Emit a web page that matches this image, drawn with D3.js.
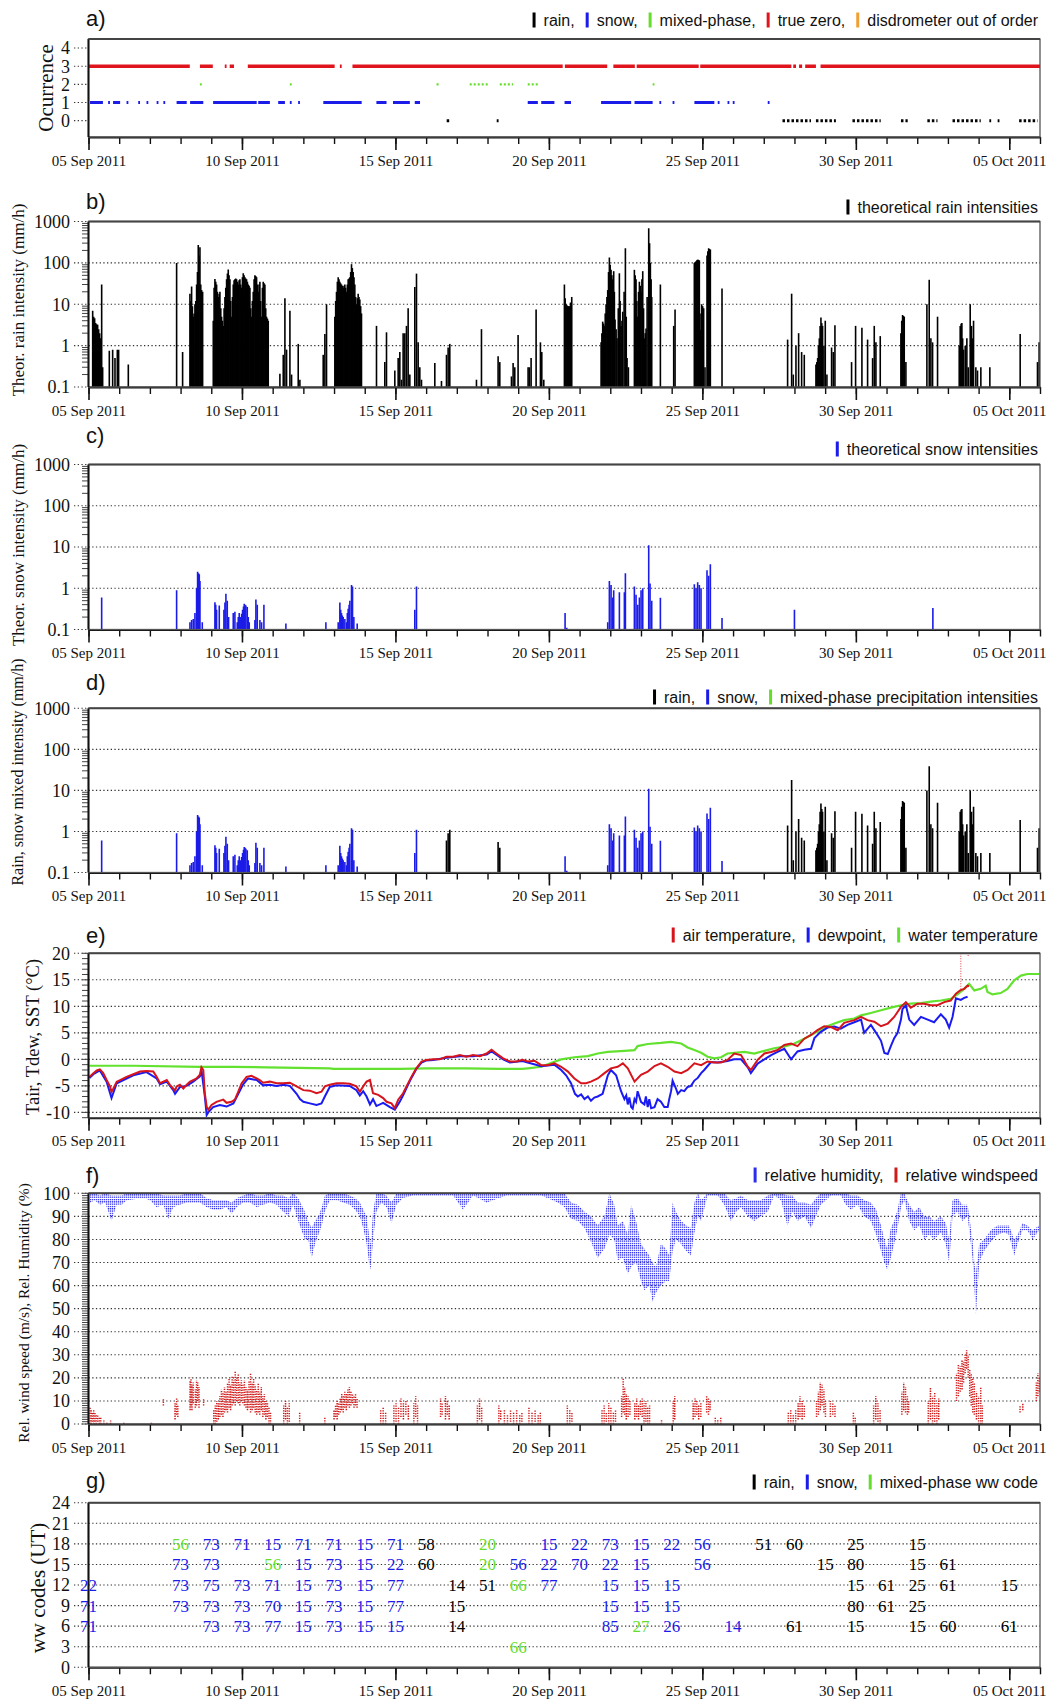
<!DOCTYPE html>
<html><head><meta charset="utf-8">
<script src="https://cdn.jsdelivr.net/npm/d3@7"></script>
<style>
body{margin:0;background:#fff;}
svg{display:block;}
.serif{font-family:"Liberation Serif","Times New Roman",serif;}
.sans{font-family:"Liberation Sans",Arial,sans-serif;}
</style></head><body>
<svg id="chart" width="1056" height="1701"></svg>
<script>
// ---------- data (time in days since 05 Sep 2011 00 UT) ----------

// a) occurrence intervals [start, end]
const occZero = [[0.02,3.3],[3.63,4.05],[4.44,4.46],[4.6,4.74],[5.19,8.02],[8.19,8.21],[8.6,15.45],[15.52,16.9],[17.1,17.8],[17.86,19.88],[19.93,22.9],[22.96,23.05],[23.15,23.25],[23.35,23.7],[23.85,31]];
const occSnow = [[0.05,0.47],[0.64,0.66],[0.8,1.03],[1.24,1.26],[1.62,1.64],[1.89,1.91],[2.22,2.24],[2.44,2.46],[2.87,3.2],[3.31,3.74],[4.06,5.48],[5.53,5.91],[6.18,6.4],[6.56,6.58],[6.83,6.85],[7.65,8.9],[9.38,9.71],[9.92,10.47],[10.63,10.8],[14.31,14.64],[14.75,15.18],[15.51,15.72],[16.7,17.68],[17.79,18.38],[18.6,18.62],[19.03,19.05],[19.74,20.39],[20.5,20.52],[20.82,20.84],[20.99,21.01],[22.13,22.15]];
const occMixed = [[3.63,3.66],[6.56,6.59],[11.34,11.44],[12.42,13.07],[13.4,13.83],[14.31,14.64],[18.38,18.41]];
const occRain = [[11.67,11.77],[13.3,13.36],[22.61,23.54],[23.7,24.35],[24.89,25.81],[26.47,26.69],[27.33,27.66],[28.15,29.07],[29.35,29.37],[29.62,29.64],[30.32,30.92]];

// b) theoretical rain intensities [day, mm/h]
const rainTheo = [
 [0.136,7],[0.168,5],[0.2,4.6],[0.233,3.5],[0.266,3.3],[0.298,3.2],[0.331,2.5],[0.364,2],[0.396,1.5],[0.429,30],[0.461,0.3],
 [0.678,0.75],[0.787,0.8],[0.863,0.5],[0.939,0.8],[0.982,0.8],[1.297,0.35],
 [2.871,100],[3.066,0.7],
 [3.305,18],[3.33,12],[3.359,27],[3.386,9],[3.413,5],[3.44,6],[3.468,10],[3.495,12],[3.522,30],[3.55,60],[3.576,270],[3.603,150],[3.631,240],[3.658,30],[3.685,22],[3.718,20],
 [4.065,4],[4.092,25],[4.119,41],[4.146,35],[4.173,30],[4.2,20],[4.228,15],[4.255,18],[4.282,20],[4.31,8],[4.336,5],[4.363,4],[4.39,3],[4.418,8],[4.445,15],[4.472,25],[4.499,40],[4.526,55],[4.553,69],[4.58,50],[4.608,40],[4.635,12],[4.662,5],[4.69,15],[4.716,30],[4.743,38],[4.77,40],[4.797,42],[4.825,40],[4.852,35],[4.879,30],[4.906,38],[4.933,40],[4.96,30],[4.987,25],[5.015,45],[5.042,56],[5.069,50],[5.096,45],[5.123,42],[5.15,40],[5.178,35],[5.205,30],[5.232,28],[5.259,25],[5.286,8],[5.313,5],[5.34,12],[5.367,20],[5.395,40],[5.422,50],[5.449,48],[5.476,45],[5.503,30],[5.53,20],[5.557,30],[5.584,35],[5.611,12],[5.639,5],[5.666,25],[5.693,35],[5.72,32],[5.747,30],[5.774,8],[5.801,5],[5.83,4.5],[5.856,4],
 [6.236,0.21],[6.345,0.6],[6.399,14],[6.453,0.8],[6.562,7],[6.616,0.2],[6.833,1.1],[6.887,0.15],
 [7.647,0.6],[7.701,1.9],[7.755,10],
 [8.026,5],[8.053,12],[8.08,20],[8.108,35],[8.135,45],[8.162,40],[8.189,35],[8.216,32],[8.243,30],[8.27,28],[8.297,25],[8.325,28],[8.352,30],[8.379,25],[8.406,20],[8.433,30],[8.46,40],[8.488,42],[8.515,45],[8.542,60],[8.569,93],[8.596,75],[8.623,60],[8.65,45],[8.677,30],[8.705,15],[8.732,10],[8.759,14],[8.786,18],[8.813,15],[8.84,13],[8.867,9],[8.894,6],
 [9.383,3],[9.654,0.4],[9.709,2.1],[9.98,0.25],[10.089,0.5],[10.143,0.7],[10.197,0.15],[10.251,2],[10.306,2],[10.36,3],[10.414,8],[10.469,0.2],[10.631,26],[10.686,55],[10.74,1.2],[10.794,0.3],[10.849,0.15],
 [11.283,0.38],[11.5,0.14],[11.663,0.6],[11.717,0.9],[11.771,1.1],[12.64,0.15],[12.803,2.5],[13.345,0.55],[13.4,0.4],[13.78,0.18],[13.834,0.38],[13.888,0.3],[13.996,1.8],
 [14.322,0.3],[14.365,0.3],[14.42,0.5],[14.583,7.5],[14.724,1.2],[14.768,0.7],[14.833,0.15],
 [15.505,30],[15.53,14],[15.56,10],[15.587,9.5],[15.614,9],[15.64,9],[15.668,9],[15.705,11],[15.744,15],
 [16.7,1.2],[16.726,2],[16.753,3.8],[16.78,3.4],[16.808,3],[16.835,6],[16.862,10],[16.89,15],[16.916,22],[16.943,60],[16.97,135],[16.997,90],[17.025,68],[17.052,50],[17.079,40],[17.111,63],[17.133,20],[17.155,4.3],[17.19,2.5],[17.22,1.5],[17.26,8],[17.296,56],[17.32,12],[17.35,3],[17.38,4],[17.405,6.6],[17.45,20],[17.492,225],[17.52,5],[17.546,0.5],[17.59,0.3],
 [17.785,68],[17.812,50],[17.839,40],[17.866,12],[17.894,5],[17.92,20],[17.948,35],[17.975,28],[18.002,20],[18.03,40],[18.057,63],[18.084,8],[18.111,1.5],[18.138,2],[18.165,2.6],[18.2,15],[18.252,690],[18.28,300],[18.306,100],[18.33,40],[18.35,15],[18.632,30],[19.066,3],[19.11,7.5],
 [19.738,100],[19.765,105],[19.793,110],[19.82,115],[19.847,120],[19.874,118],[19.901,115],[19.934,2.4],[19.955,6],[19.977,10],[20.01,9],[20.042,8],[20.086,0.3],[20.151,150],[20.178,190],[20.205,225],[20.232,215],[20.26,210],
 [20.64,24],
 [22.777,1.4],[22.908,18],[22.962,0.2],[23.049,1],[23.136,2],[23.234,0.7],[23.32,0.6],
 [23.7,0.35],[23.728,0.4],[23.755,0.5],[23.782,1],[23.809,1.5],[23.836,3],[23.863,4.8],[23.89,3.5],[23.917,3],[23.96,1],[24.004,4],[24.058,0.2],[24.21,0.9],[24.264,0.7],[24.319,3.1],
 [24.861,0.4],[24.992,3],[25.198,2.7],[25.383,1.4],[25.546,0.5],[25.6,3],[25.654,1.2],[25.795,1.7],
 [26.468,2],[26.495,4],[26.523,5.5],[26.55,5.2],[26.577,5],[26.631,0.4],
 [27.315,10],[27.391,39],[27.445,1.5],[27.5,1.2],[27.662,5],
 [28.368,1],[28.4,3],[28.43,3.4],[28.455,3.5],[28.48,1.5],[28.509,0.8],[28.563,1.0],[28.617,1.5],[28.661,0.3],[28.726,10],[28.769,3],[28.8,1.5],[28.835,4],[28.91,0.3],[28.964,0.25],[29.073,0.3],[29.366,0.3],
 [30.354,1.9],[30.918,0.4],[30.972,1.2]
];

// c) theoretical snow intensities [day, mm/h]
const snowTheo = [
 [0.429,0.6],[2.871,0.9],[3.305,0.15],[3.359,0.17],[3.413,0.18],[3.468,0.25],[3.522,1.0],[3.555,2.5],[3.582,2.3],[3.609,2.2],[3.631,1.5],[3.707,0.15],
 [4.119,0.46],[4.146,0.4],[4.173,0.3],[4.26,0.38],[4.412,0.3],[4.445,0.45],[4.477,0.74],[4.521,0.5],[4.564,0.2],[4.716,0.25],[4.77,0.27],[4.846,0.15],[4.88,0.2],[4.911,0.25],[4.955,0.2],[4.99,0.24],[5.02,0.3],[5.05,0.36],[5.074,0.42],[5.1,0.4],[5.128,0.38],[5.172,0.35],[5.205,0.2],[5.237,0.15],[5.422,0.17],[5.454,0.53],[5.498,0.4],[5.584,0.17],[5.639,0.15],[5.715,0.4],
 [6.431,0.14],[7.734,0.15],
 [8.135,0.15],[8.189,0.45],[8.216,0.3],[8.243,0.25],[8.27,0.22],[8.297,0.2],[8.352,0.18],[8.406,0.15],[8.433,0.25],[8.46,0.32],[8.49,0.4],[8.515,0.5],[8.569,1.2],[8.602,1.1],[8.645,0.2],[8.754,0.14],
 [10.631,0.3],[10.686,1.1],
 [15.527,0.25],[15.582,0.11],
 [16.916,0.15],[16.97,1.5],[17.025,1.2],[17.079,0.6],[17.111,0.9],[17.296,0.8],[17.459,0.8],[17.492,2.3],[17.785,1.1],[17.839,0.7],[17.894,0.4],[17.948,0.6],[18.002,0.9],[18.057,1.0],[18.252,11],[18.295,1.3],[18.35,0.5],[18.632,0.59],
 [19.738,1.25],[19.793,1.0],[19.847,1.4],[19.901,1.2],[19.956,1.0],[20.151,2.75],[20.205,2.0],[20.26,3.8],[20.64,0.19],
 [23.0,0.3],[27.51,0.33]
];

// d) phase-resolved intensities: periods classified as rain / snow
const rainPeriods = [[11.6,11.8],[13.3,13.45],[22.7,31.1]];
const snowPeriods = [[0,21]];

// e) temperatures [day, °C]
const airTemp = [
 [0.03,-3.3],[0.16,-2.6],[0.27,-2.1],[0.37,-1.9],[0.48,-2.6],[0.59,-3.9],[0.70,-5.1],[0.75,-6.1],[0.81,-5.5],[0.92,-4.2],[1.03,-3.9],[1.24,-3.3],[1.46,-2.8],[1.68,-2.3],[1.89,-2.2],[2.11,-2.3],[2.22,-3.3],[2.33,-4.5],[2.44,-4.2],[2.55,-3.9],[2.65,-4.8],[2.76,-5.5],[2.82,-5.9],[2.87,-5.1],[2.98,-4.8],[3.09,-5.5],[3.20,-4.8],[3.31,-4.2],[3.41,-3.9],[3.52,-3.6],[3.63,-2.9],[3.68,-1.5],[3.74,-2.0],[3.79,-6.4],[3.85,-8.9],[3.90,-9.5],[4.01,-8.6],[4.17,-8.0],[4.39,-7.6],[4.50,-8.2],[4.66,-8.0],[4.77,-7.6],[4.88,-6.1],[4.99,-4.5],[5.15,-3.3],[5.31,-3.1],[5.48,-3.6],[5.58,-3.9],[5.69,-4.4],[5.91,-4.2],[6.13,-4.5],[6.34,-4.5],[6.56,-4.4],[6.78,-5.1],[7.00,-5.8],[7.21,-5.9],[7.43,-6.4],[7.59,-6.1],[7.70,-5.1],[7.86,-4.8],[8.08,-4.5],[8.30,-4.5],[8.51,-4.6],[8.73,-5.1],[8.84,-6.1],[8.95,-5.1],[9.06,-4.2],[9.17,-3.9],[9.27,-6.4],[9.44,-6.7],[9.60,-7.3],[9.71,-8.0],[9.87,-8.3],[9.98,-9.2],[10.09,-7.6],[10.25,-6.4],[10.36,-5.1],[10.52,-3.3],[10.68,-1.7],[10.85,-0.4],[11.01,-0.1],[11.23,0],[11.44,0],[11.66,0.5],[11.88,0.5],[12.10,0.8],[12.31,0.5],[12.53,0.8],[12.75,0.6],[12.97,1.1],[13.13,1.8],[13.29,1.1],[13.51,0.2],[13.73,-0.4],[13.94,-0.4],[14.14,-0.1],
 [14.31,-0.4],[14.53,-0.25],[14.75,-1.1],[14.96,-1.1],[15.18,-0.75],[15.40,-1.4],[15.62,-2.3],[15.83,-3.6],[16.05,-4.5],[16.21,-4.5],[16.37,-4.2],[16.59,-3.6],[16.81,-2.6],[17.02,-1.7],[17.24,-1.4],[17.41,-0.75],[17.57,-1.7],[17.79,-4.2],[18.00,-2.9],[18.22,-2.3],[18.44,-1.25],[18.65,-0.75],[18.87,-1.4],[19.09,-2.3],[19.31,-2.6],[19.52,-2.0],[19.74,-0.75],[19.96,-1.1],[20.17,-0.4],[20.39,-0.6],[20.61,-0.6],[20.82,-0.1],[21.04,1.1],[21.26,0.8],[21.48,-1.4],[21.58,-2.0],[21.80,-0.1],[22.02,1.1],[22.24,1.4],[22.45,1.75],[22.67,2.7],[22.89,3.0],[23.10,2.5],[23.32,3.9],[23.54,4.6],[23.75,5.5],[23.97,6.25],[24.19,6.1],[24.41,5.5],[24.62,6.9],[24.95,7.4],[25.17,8.0],[25.38,7.4],[25.60,7.1],[25.82,6.25],[26.04,6.75],[26.25,8.0],[26.47,9.9],[26.63,10.8],[26.79,9.75],[27.01,10.5],[27.23,10.5],[27.44,10.2],[27.66,10.2],[27.88,10.8],[28.09,11.1],[28.26,12.4],[28.40,13.0],[28.53,13.3],[28.64,13.9],[28.69,13.8]
];
// isolated air-temperature readings above the main curve [day, from °C, to °C]
const airOutliers = [[28.42,13.2,21],[28.66,19.5,21]];
const dewPoint = [
 [0.03,-3.5],[0.16,-2.8],[0.37,-2.1],[0.59,-4.2],[0.75,-7.3],[0.92,-4.5],[1.46,-3.0],[1.89,-2.4],[2.22,-3.6],[2.33,-4.7],[2.55,-4.2],[2.76,-5.8],[2.82,-6.5],[2.98,-5.2],[3.20,-5.0],[3.41,-4.2],[3.63,-3.2],[3.68,-2.0],[3.79,-7.0],[3.85,-10.5],[3.90,-10.0],[4.06,-9.0],[4.28,-8.6],[4.50,-8.9],[4.72,-8.3],[4.88,-6.5],[5.04,-4.7],[5.20,-3.6],[5.48,-3.9],[5.69,-4.9],[5.91,-4.8],[6.13,-5.0],[6.34,-4.8],[6.56,-5.0],[6.78,-6.5],[6.89,-7.5],[7.00,-8.0],[7.21,-8.3],[7.43,-8.6],[7.59,-8.3],[7.70,-7.0],[7.86,-5.2],[8.08,-4.9],[8.51,-5.0],[8.73,-5.8],[8.84,-6.8],[8.95,-6.0],[9.06,-7.0],[9.17,-8.5],[9.27,-7.5],[9.38,-8.8],[9.60,-8.2],[9.82,-9.0],[9.98,-9.5],[10.14,-8.0],[10.25,-6.8],[10.36,-5.4],[10.52,-3.5],[10.68,-1.8],[10.85,-0.6],[11.01,-0.2],[11.23,-0.1],[11.66,0.3],[12.10,0.6],[12.53,0.6],[12.97,0.9],[13.13,1.5],[13.29,0.9],[13.51,0.0],[13.73,-0.6],[14.14,-0.3],
 [14.31,-0.6],[14.75,-1.3],[15.18,-1.0],[15.40,-2.0],[15.56,-3.0],[15.72,-4.5],[15.85,-6.5],[15.94,-7.0],[16.05,-6.6],[16.16,-7.5],[16.27,-7.0],[16.37,-7.8],[16.48,-7.2],[16.59,-7.0],[16.75,-6.5],[16.92,-3.0],[17.02,-2.0],[17.19,-3.0],[17.35,-6.0],[17.46,-7.5],[17.52,-6.8],[17.57,-8.5],[17.62,-7.2],[17.68,-9.0],[17.73,-9.3],[17.79,-7.5],[17.84,-8.0],[17.89,-6.0],[18.0,-8.0],[18.11,-8.5],[18.16,-7.0],[18.22,-9.0],[18.27,-7.5],[18.33,-9.2],[18.44,-9.0],[18.54,-7.5],[18.65,-8.0],[18.76,-9.0],[18.87,-9.0],[18.92,-7.5],[18.98,-6.0],[19.03,-4.0],[19.14,-5.5],[19.20,-6.5],[19.31,-5.8],[19.41,-6.0],[19.52,-5.2],[19.63,-5.0],[19.74,-4.0],[19.85,-3.5],[19.96,-2.6],[20.06,-2.0],[20.28,-0.5],[20.50,-0.6],[20.82,-0.3],[21.04,0.0],[21.26,0.0],[21.48,-1.5],[21.58,-2.6],[21.80,-0.8],[22.02,0.0],[22.24,0.8],[22.45,1.4],[22.67,2.0],[22.89,0.0],[23.10,1.5],[23.32,1.8],[23.54,2.0],[23.65,4.0],[23.86,5.2],[24.08,6.0],[24.30,6.2],[24.51,5.8],[24.73,6.5],[24.95,7.0],[25.17,7.5],[25.27,5.0],[25.49,6.5],[25.66,5.0],[25.82,3.5],[25.93,1.2],[26.04,1.0],[26.14,2.5],[26.25,4.0],[26.36,5.0],[26.47,7.5],[26.52,9.5],[26.63,10.2],[26.74,7.5],[26.90,6.5],[27.12,8.0],[27.34,7.5],[27.55,7.0],[27.77,8.5],[27.93,7.5],[28.04,6.0],[28.15,8.0],[28.26,11.5],[28.42,11.2],[28.53,11.6],[28.64,11.8]
];
const waterTemp = [
 [0.03,-1.2],[1.46,-1.2],[3.63,-1.4],[4.72,-1.4],[5.80,-1.5],[7.86,-1.7],[7.98,-1.8],[10.14,-1.8],[11.01,-1.7],[12.31,-1.7],[13.40,-1.8],[14.14,-1.8],
 [14.31,-1.7],[14.75,-1.4],[15.07,-0.7],[15.40,0.0],[15.83,0.4],[16.27,0.6],[16.59,1.1],[16.92,1.4],[17.46,1.6],[17.79,1.75],[17.89,2.5],[18.22,2.9],[18.65,3.1],[18.98,3.3],[19.31,3.0],[19.52,2.25],[19.74,1.75],[19.96,1.25],[20.17,0.5],[20.39,0.2],[20.61,0.4],[20.82,1.1],[21.04,1.25],[21.37,1.4],[21.69,1.1],[22.02,1.6],[22.34,2.1],[22.67,2.4],[23.00,3.0],[23.32,3.9],[23.65,4.9],[23.97,6.0],[24.30,6.75],[24.62,7.4],[24.95,7.7],[25.17,8.3],[25.49,8.75],[25.82,9.25],[26.14,9.75],[26.47,10.2],[26.79,10.5],[27.12,10.6],[27.44,10.9],[27.77,11.1],[28.09,11.4],[28.31,12.25],[28.53,13.3],[28.69,14.25],[28.86,13.0],[29.07,13.3],[29.23,13.9],[29.29,12.7],[29.45,12.25],[29.72,12.5],[29.94,13.3],[30.16,14.9],[30.38,15.8],[30.59,16.1],[30.97,16.1]
];

// f) relative humidity spread [day, min %, max %]
const relHum = [
 [0.05,96,100],[0.21,97,100],[0.37,95,99],[0.54,96,100],[0.75,88,99],[0.92,95,99],[1.08,95,99],[1.24,97,100],[1.79,98,100],[2.01,97,100],[2.22,94,100],[2.44,95,99],[2.6,89,99],[2.76,94,99],[2.98,95,99],[3.2,96,100],[3.41,96,100],[3.63,96,100],[3.85,94,98],[4.06,93,97],[4.28,93,97],[4.5,94,97],[4.66,91,96],[4.83,94,98],[5.04,96,99],[5.26,96,100],[5.48,94,99],[5.69,95,99],[5.91,96,100],[6.13,95,99],[6.34,92,99],[6.51,90,98],[6.67,95,100],[6.83,88,98],[6.94,84,95],[7.05,80,92],[7.16,80,88],[7.27,72,85],[7.38,78,88],[7.49,82,90],[7.6,86,94],[7.7,92,99],[7.86,97,100],[8.08,97,100],[8.3,96,100],[8.51,95,99],[8.68,93,98],[8.84,90,96],[8.95,85,93],[9.06,78,90],[9.14,70,82],[9.2,67,78],[9.27,80,92],[9.38,92,100],[9.54,96,100],[9.71,94,99],[9.87,87,96],[10.03,95,100],[10.25,98,100],[10.57,99,100],[11.23,99,100],[11.88,99,100],[12.2,93,100],[12.53,99,100],[12.97,96,100],[13.62,99,100],[14.14,99,100],
 [14.31,99,100],[14.75,99,100],[15.29,96,100],[15.51,94,100],[15.72,89,96],[15.94,88,95],[16.16,85,92],[16.37,79,90],[16.59,72,86],[16.81,76,90],[16.97,82,100],[17.13,80,95],[17.24,71,86],[17.41,72,88],[17.57,65,82],[17.68,68,95],[17.84,70,88],[18.0,62,78],[18.11,58,76],[18.27,60,73],[18.38,53,70],[18.49,57,68],[18.65,60,78],[18.81,62,76],[18.92,62,73],[19.03,75,96],[19.14,80,92],[19.31,78,88],[19.47,75,86],[19.63,73,85],[19.74,83,96],[19.85,90,100],[19.96,88,97],[20.17,99,100],[20.5,99,100],[20.71,95,100],[20.93,88,97],[21.1,92,98],[21.26,94,99],[21.48,90,97],[21.69,88,97],[21.91,90,97],[22.13,92,99],[22.34,99,100],[22.56,97,100],[22.77,86,99],[22.94,92,99],[23.1,88,96],[23.32,90,96],[23.54,85,95],[23.7,90,98],[23.86,95,100],[24.19,99,100],[24.51,99,100],[24.67,95,100],[24.84,93,99],[25.06,95,99],[25.27,90,97],[25.49,88,96],[25.66,82,93],[25.82,75,86],[25.93,70,80],[26.02,67,76],[26.14,72,85],[26.25,78,88],[26.36,85,93],[26.47,94,100],[26.58,97,100],[26.74,88,95],[26.9,84,92],[27.07,86,94],[27.23,80,90],[27.39,82,90],[27.55,80,88],[27.77,83,90],[27.93,78,87],[28.04,70,80],[28.15,90,97],[28.31,92,98],[28.47,88,95],[28.64,90,95],[28.8,72,80],[28.86,60,70],[28.91,47,65],[29.02,70,78],[29.18,75,80],[29.4,79,84],[29.61,82,86],[29.83,83,86],[29.99,82,86],[30.16,73,80],[30.27,78,82],[30.43,84,87],[30.59,84,86],[30.76,80,84],[30.97,84,86]
];
// f) relative wind speed streaks [day, min m/s, max m/s]
const relWind = [
 [0.05,0,7],[0.09,0,6],[0.13,1,5],[0.17,0,6],[0.21,1,5],[0.25,0,4],[0.3,1,4],[0.35,0,3],[0.4,0,3],[0.5,0,1.5],[0.6,0,1],[0.72,0,1.5],
 [1.15,0,1],[2.05,0,1],[2.44,8,11],[2.82,2,9],[2.87,4,11],[2.91,3,8],
 [3.31,6,19],[3.34,8,20],[3.37,6,17],[3.41,9,18],[3.48,7,15],[3.52,8,19],[3.56,10,18],[3.6,7,16],[3.75,8,11],
 [4.08,0,6],[4.13,0,8],[4.18,1,10],[4.23,2,9],[4.28,3,12],[4.33,4,15],[4.38,3,14],[4.43,5,16],[4.48,6,14],[4.53,5,18],[4.58,7,20],[4.63,6,17],[4.68,8,21],[4.73,9,19],[4.78,8,23],[4.83,10,20],[4.88,9,22],[4.93,8,18],[4.98,10,19],[5.03,9,17],[5.08,8,19],[5.13,7,16],[5.18,6,15],[5.23,7,19],[5.28,5,22],[5.33,6,18],[5.38,7,20],[5.43,5,17],[5.48,4,15],[5.53,5,18],[5.58,4,14],[5.63,6,16],[5.68,3,12],[5.73,4,13],[5.78,2,10],[5.83,3,9],[5.88,0,7],[5.93,0,5],
 [6.36,0,8],[6.42,2,10],[6.48,0,7],[6.54,1,9],[6.88,0,5],[7.7,0,3],
 [8.0,2,6],[8.05,3,8],[8.1,2,10],[8.15,4,9],[8.2,5,11],[8.25,6,13],[8.3,5,12],[8.35,7,14],[8.4,6,13],[8.45,8,15],[8.5,7,16],[8.55,8,14],[8.6,9,13],[8.65,7,12],[8.7,8,13],[8.75,7,11],
 [9.52,0,6],[9.6,0,7],[9.68,0,5],[9.95,0,8],[10.02,1,9],[10.1,0,7],[10.18,3,11],[10.26,2,9],[10.34,4,10],[10.42,2,8],[10.6,0,9],[10.66,3,12],[10.72,0,8],
 [11.47,3,11],[11.52,4,9],[11.63,2,12],[11.69,4,10],[11.75,2,8],[12.67,0,8],[12.74,2,11],[12.81,0,7],[13.37,0,8],[13.43,2,6],[13.55,0,6],[13.65,0,4],[13.75,1,6],[13.85,0,5],[13.95,0,6],[14.05,0,4],[14.12,1,5],
 [14.35,0,7],[14.45,0,5],[14.55,1,6],[14.65,0,4],[14.72,0,5],
 [15.6,0,8],[15.68,0,6],[15.75,1,5],
 [16.73,0,6],[16.8,0,8],[16.87,1,5],[16.95,0,9],[17.02,0,7],[17.1,0,5],[17.17,1,6],
 [17.37,3,12],[17.42,5,20],[17.47,4,16],[17.52,2,13],[17.58,3,12],[17.64,4,10],
 [17.8,2,9],[17.86,3,11],[17.92,2,8],[17.98,4,10],[18.04,3,11],[18.1,0,9],[18.16,1,10],[18.22,0,7],[18.28,0,8],
 [18.67,0,2],[19.05,0,10],[19.1,2,12],
 [19.7,2,9],[19.76,3,11],[19.82,4,10],[19.88,2,8],[19.95,3,9],[20.14,5,12],[20.2,4,11],[20.25,6,10],
 [20.42,0,3],[20.5,0,2],[20.6,0,3],
 [22.8,0,5],[22.88,0,6],[22.96,0,4],[23.04,0,6],[23.12,2,9],[23.18,3,12],[23.25,2,10],[23.32,3,8],
 [23.72,3,10],[23.78,4,14],[23.84,6,18],[23.9,8,17],[23.96,5,15],[24.01,3,10],[24.17,3,10],[24.25,4,9],[24.32,3,8],
 [24.92,0,5],[24.98,0,3],
 [25.58,0,8],[25.65,2,12],[25.72,1,9],[25.79,0,6],
 [26.5,4,14],[26.56,6,18],[26.62,5,16],[26.68,4,12],[26.72,5,10],
 [27.36,0,10],[27.43,2,16],[27.5,0,12],[27.57,1,14],[27.64,0,9],[27.7,2,11],
 [28.28,10,22],[28.34,12,26],[28.4,14,25],[28.46,15,28],[28.51,18,27],[28.56,22,30],[28.61,24,32],[28.66,20,30],[28.71,12,24],[28.76,8,22],[28.81,5,20],[28.86,4,18],[28.93,2,14],[29.0,0,12],[29.07,0,16],[29.12,0,8],
 [30.35,5,8],[30.44,6,9],[30.88,10,18],[30.93,12,22],[30.98,14,20]
];

// g) ww codes [day, hour UT, code, phase]
const wwCodes = [
 [0,12,"22","s"],[0,9,"71","s"],[0,6,"71","s"],
 [3,18,"56","m"],[3,15,"73","s"],[3,12,"73","s"],[3,9,"73","s"],
 [4,18,"73","s"],[4,15,"73","s"],[4,12,"75","s"],[4,9,"73","s"],[4,6,"73","s"],
 [5,18,"71","s"],[5,12,"73","s"],[5,9,"73","s"],[5,6,"73","s"],
 [6,18,"15","s"],[6,15,"56","m"],[6,12,"71","s"],[6,9,"70","s"],[6,6,"77","s"],
 [7,18,"71","s"],[7,15,"15","s"],[7,12,"15","s"],[7,9,"15","s"],[7,6,"15","s"],
 [8,18,"71","s"],[8,15,"73","s"],[8,12,"73","s"],[8,9,"73","s"],[8,6,"73","s"],
 [9,18,"15","s"],[9,15,"15","s"],[9,12,"15","s"],[9,9,"15","s"],[9,6,"15","s"],
 [10,18,"71","s"],[10,15,"22","s"],[10,12,"77","s"],[10,9,"77","s"],[10,6,"15","s"],
 [11,18,"58","r"],[11,15,"60","r"],
 [12,12,"14","r"],[12,9,"15","r"],[12,6,"14","r"],
 [13,18,"20","m"],[13,15,"20","m"],[13,12,"51","r"],
 [14,15,"56","s"],[14,12,"66","m"],[14,3,"66","m"],
 [15,18,"15","s"],[15,15,"22","s"],[15,12,"77","s"],
 [16,18,"22","s"],[16,15,"70","s"],
 [17,18,"73","s"],[17,15,"22","s"],[17,12,"15","s"],[17,9,"15","s"],[17,6,"85","s"],
 [18,18,"15","s"],[18,15,"15","s"],[18,12,"15","s"],[18,9,"15","s"],[18,6,"27","m"],
 [19,18,"22","s"],[19,12,"15","s"],[19,9,"15","s"],[19,6,"26","s"],
 [20,18,"56","s"],[20,15,"56","s"],
 [21,6,"14","s"],
 [22,18,"51","r"],
 [23,18,"60","r"],[23,6,"61","r"],
 [24,15,"15","r"],
 [25,18,"25","r"],[25,15,"80","r"],[25,12,"15","r"],[25,9,"80","r"],[25,6,"15","r"],
 [26,12,"61","r"],[26,9,"61","r"],
 [27,18,"15","r"],[27,15,"15","r"],[27,12,"25","r"],[27,9,"25","r"],[27,6,"15","r"],
 [28,15,"61","r"],[28,12,"61","r"],[28,6,"60","r"],
 [30,12,"15","r"],[30,6,"61","r"]
];

// axis ticks
const occTicks = [0,1,2,3,4];
const logTicks = [0.1,1,10,100,1000];
const tempTicks = [-10,-5,0,5,10,15,20];
const pctTicks = d3.range(0,101,10);
const hourTicks = d3.range(0,25,3);
const dateTicks = [0,5,10,15,20,25,30];

// ---------- drawing ----------
const svg = d3.select("#chart");
const X0 = 88.5, X1 = 1040;
const START = Date.UTC(2011, 8, 5);
const toDate = d => new Date(START + d * 864e5);
const x = d3.scaleUtc().domain([toDate(0), toDate(31)]).range([X0, X1]);
const xd = d => x(toDate(d));

const COL = {rain:"#000000", snow:"#1c1ce8", mixed:"#66dd2a", zero:"#e0141c", off:"#f0a030",
             air:"#d6141c", dew:"#1a1af2", water:"#62e22e", rh:"#2c2cee", wind:"#d01a1a"};
const phaseCol = {r:COL.rain, s:COL.snow, m:COL.mixed};

const defs = svg.append("defs");
// humidity samples sit on 1 % steps: a dotted fill
const rhPat = defs.append("pattern").attr("id", "rhDots").attr("patternUnits", "userSpaceOnUse")
  .attr("width", 2).attr("height", 2.31);
rhPat.append("rect").attr("width", 1.3).attr("height", 1.3).attr("fill", COL.rh);

function inPeriods(periods) {
  return d => periods.some(([a, b]) => d[0] >= a && d[0] <= b);
}

function setup(p) {
  const g = svg.append("g");
  defs.append("clipPath").attr("id", "clip-" + p.id).append("rect")
    .attr("x", X0).attr("y", p.top).attr("width", X1 - X0).attr("height", p.bottom - p.top);
  if (p.grid) {
    g.selectAll("line.grid").data(p.ticks.filter(v => p.y(v) > p.top + 1 && p.y(v) < p.bottom - 1))
      .join("line").attr("class", "grid")
      .attr("x1", X0).attr("x2", X1).attr("y1", d => p.y(d)).attr("y2", d => p.y(d))
      .attr("stroke", "#333").attr("stroke-width", 1.1).attr("stroke-dasharray", "1.3,2.4");
  }
  g.selectAll("line.tk").data(p.ticks).join("line").attr("class", "tk")
    .attr("x1", 74).attr("x2", X0).attr("y1", d => p.y(d)).attr("y2", d => p.y(d))
    .attr("stroke", "#333").attr("stroke-width", 1.1).attr("stroke-dasharray", "1.3,2.4");
  g.selectAll("line.mn").data(p.minor || []).join("line").attr("class", "mn")
    .attr("x1", 82).attr("x2", X0).attr("y1", d => p.y(d)).attr("y2", d => p.y(d))
    .attr("stroke", "#444").attr("stroke-width", 1);
  g.selectAll("text.tl").data(p.ticks).join("text").attr("class", "serif")
    .attr("x", 70).attr("y", d => p.y(d)).attr("dy", "0.35em").attr("text-anchor", "end")
    .attr("font-size", 18).attr("fill", "#111").text(p.fmt);
  // y title
  svg.append("text").attr("class", "serif")
    .attr("transform", `translate(${p.titleX},${p.titleY}) rotate(-90)`)
    .attr("text-anchor", "middle").attr("dy", "0.35em")
    .attr("font-size", p.titleSize).attr("fill", "#111").text(p.title);
  // panel letter
  svg.append("text").attr("class", "sans").attr("x", 86).attr("y", p.letterY).attr("dy", "0.35em")
    .attr("font-size", 22).attr("fill", "#111").text(p.letter);
  legend(p.legendY, p.legend);
  const plot = svg.append("g");
  if (p.clip !== false) plot.attr("clip-path", `url(#clip-${p.id})`);
  return plot;
}

function finish(p) {
  const minor = svg.append("g").attr("transform", `translate(0,${p.bottom})`)
    .call(d3.axisBottom(x).tickValues(d3.range(0, 32).map(toDate)).tickSize(7).tickSizeOuter(0).tickFormat(""));
  minor.select(".domain").remove();
  minor.selectAll("line").attr("stroke", "#111").attr("stroke-width", 1.4);
  const major = svg.append("g").attr("transform", `translate(0,${p.bottom})`)
    .call(d3.axisBottom(x).tickValues(dateTicks.map(toDate)).tickSize(13).tickSizeOuter(0)
      .tickPadding(5).tickFormat(d3.utcFormat("%d %b %Y")));
  major.select(".domain").attr("stroke", "#111").attr("stroke-width", 2);
  major.selectAll("line").attr("stroke", "#111").attr("stroke-width", 1.6);
  major.selectAll("text").attr("class", "serif").attr("font-size", 15).attr("fill", "#111");
  svg.append("rect").attr("x", X0).attr("y", p.top).attr("width", X1 - X0).attr("height", p.bottom - p.top)
    .attr("fill", "none").attr("stroke", "#555").attr("stroke-width", 1.3);
  svg.append("line").attr("x1", X0).attr("x2", X0).attr("y1", p.top).attr("y2", p.bottom)
    .attr("stroke", "#111").attr("stroke-width", 2);
  svg.append("line").attr("x1", X0).attr("x2", X1).attr("y1", p.top).attr("y2", p.top)
    .attr("stroke", "#444").attr("stroke-width", 2);
}

function legend(yc, items) {
  const g = svg.append("g");
  let cx = 0;
  items.forEach((it, i) => {
    g.append("rect").attr("x", cx).attr("y", yc - 7.5).attr("width", 3).attr("height", 15).attr("fill", it[0]);
    cx += 3 + 8;
    const t = g.append("text").attr("class", "sans").attr("x", cx).attr("y", yc).attr("dy", "0.35em")
      .attr("font-size", 16).attr("fill", "#111").text(it[1]);
    cx += t.node().getComputedTextLength();
    if (i < items.length - 1) cx += 11;
  });
  g.attr("transform", `translate(${1038 - cx},0)`);
}

function bars(g, y, data, color) {
  g.selectAll(null).data(data).join("line")
    .attr("x1", d => xd(d[0])).attr("x2", d => xd(d[0]))
    .attr("y1", y(0.1)).attr("y2", d => y(d[1]))
    .attr("stroke", color).attr("stroke-width", 1.6);
}

const logMinor = [];
[-1, 0, 1, 2].forEach(n => d3.range(2, 10).forEach(k => logMinor.push(k * Math.pow(10, n))));
const fmtLog = d => d < 1 ? "0.1" : String(d);

// ----- a) occurrence -----
const pa = {id:"a", top:39, bottom:137, letter:"a)", letterY:18, legendY:20,
  ticks:occTicks, fmt:d => d, grid:false,
  title:"Ocurrence", titleX:46, titleY:88, titleSize:21,
  legend:[[COL.rain,"rain,"],[COL.snow,"snow,"],[COL.mixed,"mixed-phase,"],[COL.zero,"true zero,"],[COL.off,"disdrometer out of order"]]};
pa.y = d3.scaleLinear().domain([-0.9, 4.5]).range([pa.bottom, pa.top]);
const ga = setup(pa);
function occ(data, level, color, width, dash) {
  ga.selectAll(null).data(data).join("line")
    .attr("x1", d => xd(d[0])).attr("x2", d => Math.max(xd(d[1]), xd(d[0]) + 1.8))
    .attr("y1", pa.y(level)).attr("y2", pa.y(level))
    .attr("stroke", color).attr("stroke-width", width).attr("stroke-dasharray", dash);
}
occ(occZero, 3, COL.zero, 3.4, null);
occ(occMixed, 2, COL.mixed, 2.4, "2,2");
occ(occSnow, 1, COL.snow, 3, null);
occ(occRain, 0, COL.rain, 3, "2.5,2");
finish(pa);

// ----- b) theoretical rain -----
const pb = {id:"b", top:221.5, bottom:387, letter:"b)", letterY:201, legendY:207,
  ticks:logTicks, fmt:fmtLog, grid:true, minor:logMinor,
  title:"Theor. rain intensity (mm/h)", titleX:18, titleY:300, titleSize:17,
  legend:[[COL.rain,"theoretical rain intensities"]]};
pb.y = d3.scaleLog().domain([0.1, 1000]).range([pb.bottom, pb.top]);
bars(setup(pb), pb.y, rainTheo, COL.rain);
finish(pb);

// ----- c) theoretical snow -----
const pc = {id:"c", top:464.5, bottom:629.5, letter:"c)", letterY:435, legendY:449,
  ticks:logTicks, fmt:fmtLog, grid:true, minor:logMinor,
  title:"Theor. snow intensity (mm/h)", titleX:18, titleY:545, titleSize:17,
  legend:[[COL.snow,"theoretical snow intensities"]]};
pc.y = d3.scaleLog().domain([0.1, 1000]).range([pc.bottom, pc.top]);
bars(setup(pc), pc.y, snowTheo, COL.snow);
finish(pc);

// ----- d) phase-resolved -----
const pd = {id:"d", top:708.3, bottom:872.5, letter:"d)", letterY:682, legendY:697,
  ticks:logTicks, fmt:fmtLog, grid:true, minor:logMinor,
  title:"Rain, snow mixed intensity (mm/h)", titleX:17, titleY:772, titleSize:16,
  legend:[[COL.rain,"rain,"],[COL.snow,"snow,"],[COL.mixed,"mixed-phase precipitation intensities"]]};
pd.y = d3.scaleLog().domain([0.1, 1000]).range([pd.bottom, pd.top]);
const gd = setup(pd);
bars(gd, pd.y, snowTheo.filter(inPeriods(snowPeriods)), COL.snow);
bars(gd, pd.y, rainTheo.filter(inPeriods(rainPeriods)), COL.rain);
finish(pd);

// ----- e) temperatures -----
const pe = {id:"e", top:953.3, bottom:1117.7, letter:"e)", letterY:935, legendY:935,
  ticks:tempTicks, fmt:d => d, grid:true, minor:d3.range(-11, 21),
  title:"Tair, Tdew, SST (°C)", titleX:33, titleY:1037, titleSize:18.5,
  legend:[[COL.air,"air temperature,"],[COL.dew,"dewpoint,"],[COL.water,"water temperature"]]};
pe.y = d3.scaleLinear().domain([-11, 20]).range([pe.bottom, pe.top]);
const ge = setup(pe);
const tLine = d3.line().x(d => xd(d[0])).y(d => pe.y(d[1]));
ge.append("path").datum(waterTemp).attr("d", tLine).attr("fill", "none").attr("stroke", COL.water).attr("stroke-width", 2.2);
ge.append("path").datum(dewPoint).attr("d", tLine).attr("fill", "none").attr("stroke", COL.dew).attr("stroke-width", 2);
ge.append("path").datum(airTemp).attr("d", tLine).attr("fill", "none").attr("stroke", COL.air).attr("stroke-width", 2);
ge.selectAll(null).data(airOutliers).join("line")
  .attr("x1", d => xd(d[0])).attr("x2", d => xd(d[0])).attr("y1", d => pe.y(d[1])).attr("y2", d => pe.y(d[2]))
  .attr("stroke", COL.air).attr("stroke-width", 1.2).attr("stroke-dasharray", "1,1.5").attr("opacity", 0.7);
finish(pe);

// ----- f) humidity and wind -----
const pf = {id:"f", top:1193.3, bottom:1424, letter:"f)", letterY:1175, legendY:1175,
  ticks:pctTicks, fmt:d => d, grid:true, minor:d3.range(0, 101),
  title:"Rel. wind speed (m/s), Rel. Humidity (%)", titleX:24, titleY:1313, titleSize:15.5,
  legend:[[COL.rh,"relative humidity,"],[COL.wind,"relative windspeed"]]};
pf.y = d3.scaleLinear().domain([0, 100]).range([pf.bottom, pf.top]);
const gf = setup(pf);
gf.append("path").datum(relHum)
  .attr("d", d3.area().x(d => xd(d[0])).y0(d => pf.y(d[1])).y1(d => pf.y(d[2])))
  .attr("fill", "url(#rhDots)");
gf.selectAll(null).data(relWind).join("line")
  .attr("x1", d => xd(d[0])).attr("x2", d => xd(d[0]))
  .attr("y1", d => pf.y(d[1])).attr("y2", d => pf.y(d[2]))
  .attr("stroke", COL.wind).attr("stroke-width", 1.5).attr("stroke-dasharray", "1.3,1.2");
finish(pf);

// ----- g) ww codes (labels may straddle the left axis, so no clipping) -----
const pg = {id:"g", top:1502.7, bottom:1667.3, letter:"g)", letterY:1480, legendY:1482,
  ticks:hourTicks, fmt:d => d, grid:true, clip:false,
  title:"ww codes (UT)", titleX:38, titleY:1588, titleSize:21,
  legend:[[COL.rain,"rain,"],[COL.snow,"snow,"],[COL.mixed,"mixed-phase ww code"]]};
pg.y = d3.scaleLinear().domain([0, 24]).range([pg.bottom, pg.top]);
const gg = setup(pg);
finish(pg);
gg.raise();
gg.selectAll(null).data(wwCodes).join("text").attr("class", "serif")
  .attr("x", d => xd(d[0])).attr("y", d => pg.y(d[1])).attr("dy", "0.35em")
  .attr("text-anchor", "middle").attr("font-size", 17).attr("fill", d => phaseCol[d[3]])
  .text(d => d[2]);
</script>
</body></html>
